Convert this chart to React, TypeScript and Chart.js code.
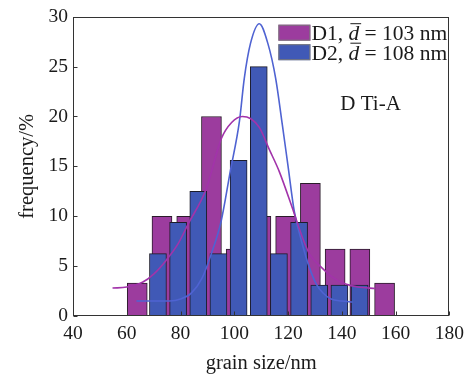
import React, { useEffect, useRef } from "react";
import { Chart, registerables } from "chart.js";

Chart.register(...registerables);

// ---------- data ----------
const seriesLabels = ["D1", "D2"];
const meanLabels = ["103 nm", "108 nm"];
const annotationText = "D Ti-A";
const xTitle = "grain size/nm";
const yTitle = "frequency/%";
const xTicks = [40, 60, 80, 100, 120, 140, 160, 180];
const yTicks = [0, 5, 10, 15, 20, 25, 30];

const d1Centers = [63.9, 73.1, 82.3, 91.5, 100.7, 109.9, 119.1, 128.3, 137.5, 146.7, 155.9];
const d1Freq = [3.3, 10, 10, 20, 6.7, 10, 10, 13.3, 6.7, 6.7, 3.3];
const d2Centers = [71.6, 79.1, 86.6, 94.1, 101.6, 109.1, 116.6, 124.1, 131.6, 139.1, 146.6];
const d2Freq = [6.25, 9.4, 12.5, 6.25, 15.6, 25, 6.25, 9.4, 3.1, 3.1, 3.1];

const d1FitX = [54.7, 60, 66, 70, 74.7, 79, 83, 89.5, 95.2, 99, 103, 106, 109.3, 113, 116.7, 122, 125.3, 128, 132.7, 137, 141.4, 146, 152.5];
const d1FitY = [2.8, 2.9, 3.4, 4.2, 5.6, 7.2, 9.3, 12.7, 17.8, 19.4, 20, 19.8, 18.9, 16.7, 14.5, 10.5, 7.9, 6.2, 4.8, 3.8, 3.2, 2.9, 2.75];
const d2FitX = [63.6, 70, 76, 80, 84, 88, 91.4, 95.1, 98.5, 101.9, 103.7, 106, 109.3, 112.5, 115.4, 117.9, 120, 122.3, 125, 128, 130.5, 133, 136, 140, 144];
const d2FitY = [1.5, 1.5, 1.5, 1.7, 2.3, 3.8, 6.2, 9.5, 14.5, 19.5, 23.8, 27.3, 29.3, 27.3, 23.8, 19.1, 15, 10.5, 7.5, 4.8, 3.2, 2.3, 1.7, 1.5, 1.4];

// annotation anchor in data units
const annotationAt = { x: 150.7, y: 21.2 };

// ---------- styles ----------
const FONT = "'Liberation Serif', 'Times New Roman', serif";
const purple = "#9c3c9e";
const blue = "#4059b6";
const purpleLine = "#a233aa";
const blueLine = "#4f63d2";
const ink = "#1a1a1a";

const zip = (xs: number[], ys: number[]) => xs.map((x, i) => ({ x, y: ys[i] }));

const decorPlugin = {
  id: "decor",
  afterDraw(chart: any) {
    const { ctx, chartArea: a, scales } = chart;
    ctx.save();
    // frame
    ctx.strokeStyle = "#333";
    ctx.lineWidth = 1;
    const L = Math.round(a.left) + 0.5;
    const T = Math.round(a.top) + 0.5;
    const R = Math.round(a.right) - 0.5;
    const B = Math.round(a.bottom) - 0.5;
    ctx.strokeRect(L, T, R - L, B - T);
    // inward ticks
    ctx.beginPath();
    scales.x.ticks.forEach((t: any) => {
      const px = Math.round(scales.x.getPixelForValue(t.value)) + 0.5;
      ctx.moveTo(px, B);
      ctx.lineTo(px, B - 4);
    });
    scales.y.ticks.forEach((t: any) => {
      const py = Math.round(scales.y.getPixelForValue(t.value)) + 0.5;
      ctx.moveTo(L, py);
      ctx.lineTo(L + 4, py);
    });
    ctx.stroke();

    // legend
    const colors = [purple, blue];
    const boxX = a.right - 171;
    ctx.textBaseline = "alphabetic";
    ctx.textAlign = "left";
    seriesLabels.forEach((lab, i) => {
      const boxY = a.top + 8 + i * 19.5;
      ctx.fillStyle = colors[i];
      ctx.fillRect(boxX, boxY, 32, 16);
      ctx.strokeStyle = "#7a7a7a";
      ctx.lineWidth = 1;
      ctx.strokeRect(boxX + 0.5, boxY + 0.5, 31, 15);
      const base = boxY + 15.5;
      let x = boxX + 33;
      ctx.fillStyle = ink;
      ctx.font = `21.5px ${FONT}`;
      const p1 = `${lab}, `;
      ctx.fillText(p1, x, base);
      x += ctx.measureText(p1).width;
      ctx.font = `italic 21.5px ${FONT}`;
      ctx.fillText("d", x, base);
      const wd = ctx.measureText("d").width;
      ctx.strokeStyle = ink;
      ctx.beginPath();
      ctx.moveTo(x + 2, base - 16.5);
      ctx.lineTo(x + wd + 2, base - 16.5);
      ctx.stroke();
      x += wd;
      ctx.font = `21.5px ${FONT}`;
      ctx.fillText(` = ${meanLabels[i]}`, x, base);
    });

    // annotation
    ctx.font = `21px ${FONT}`;
    ctx.fillStyle = ink;
    ctx.textAlign = "center";
    ctx.textBaseline = "middle";
    ctx.fillText(annotationText, scales.x.getPixelForValue(annotationAt.x), scales.y.getPixelForValue(annotationAt.y));
    ctx.restore();
  },
};

export default function App() {
  const ref = useRef<HTMLCanvasElement | null>(null);
  useEffect(() => {
    if (!ref.current) return;
    const chart = new Chart(ref.current, {
      type: "bar",
      data: {
        datasets: [
          {
            type: "line",
            label: "D1 fit",
            data: zip(d1FitX, d1FitY),
            borderColor: purpleLine,
            borderWidth: 1.6,
            pointRadius: 0,
            fill: false,
            cubicInterpolationMode: "monotone",
            order: 0,
          } as any,
          {
            type: "line",
            label: "D2 fit",
            data: zip(d2FitX, d2FitY),
            borderColor: blueLine,
            borderWidth: 1.6,
            pointRadius: 0,
            fill: false,
            cubicInterpolationMode: "monotone",
            order: 0,
          } as any,
          {
            type: "bar",
            label: seriesLabels[1],
            data: zip(d2Centers, d2Freq),
            backgroundColor: blue,
            borderColor: "#1c1c2a",
            borderWidth: 1,
            barThickness: 17,
            grouped: false,
            order: 1,
          } as any,
          {
            type: "bar",
            label: seriesLabels[0],
            data: zip(d1Centers, d1Freq),
            backgroundColor: purple,
            borderColor: "#2a1c2a",
            borderWidth: 1,
            barThickness: 20,
            grouped: false,
            order: 2,
          } as any,
        ],
      },
      options: {
        animation: false,
        responsive: false,
        maintainAspectRatio: false,
        layout: { padding: { top: 14, right: 19, left: 0, bottom: 0 } },
        plugins: { legend: { display: false }, tooltip: { enabled: false } },
        scales: {
          x: {
            type: "linear",
            offset: false,
            min: 40,
            max: 180,
            afterBuildTicks: (s: any) => {
              s.ticks = xTicks.map((v) => ({ value: v }));
            },
            afterFit: (s: any) => {
              s.height = 62;
            },
            grid: { display: false, drawTicks: false, offset: false },
            border: { display: false },
            ticks: { color: ink, font: { family: FONT, size: 19.5 }, padding: 6, maxRotation: 0, autoSkip: false },
            title: { display: true, text: xTitle, color: ink, font: { family: FONT, size: 20.5 }, padding: { top: 0, bottom: 2 } },
          },
          y: {
            type: "linear",
            min: 0,
            max: 30,
            afterBuildTicks: (s: any) => {
              s.ticks = yTicks.map((v) => ({ value: v }));
            },
            afterFit: (s: any) => {
              s.width = 73;
            },
            grid: { display: false, drawTicks: false },
            border: { display: false },
            ticks: { color: ink, font: { family: FONT, size: 19.5 }, padding: 5, autoSkip: false },
            title: { display: true, text: yTitle, color: ink, font: { family: FONT, size: 20.5 }, padding: { top: 15, bottom: 0 } },
          },
        },
      },
      plugins: [decorPlugin],
    } as any);
    return () => chart.destroy();
  }, []);
  return (
    <div style={{ position: "fixed", left: 0, top: 0, width: 470, height: 378, background: "#fff" }}>
      <canvas ref={ref} width={470} height={378} style={{ width: 470, height: 378, display: "block" }} />
    </div>
  );
}
